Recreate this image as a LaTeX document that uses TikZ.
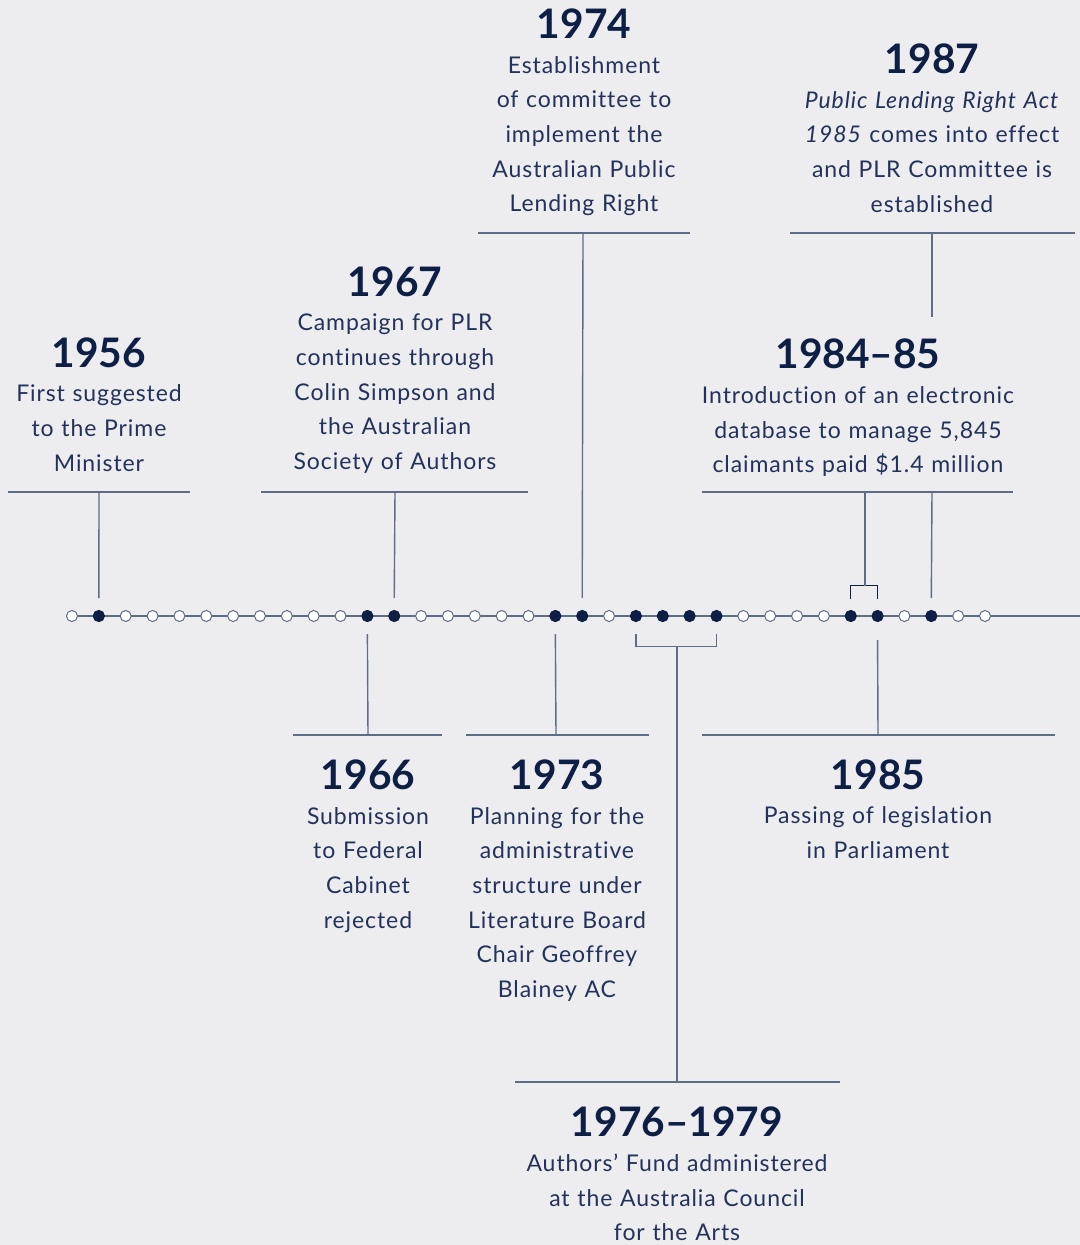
\documentclass[tikz,border=0pt]{standalone}
\usepackage{fontspec}
\setmainfont{Lato}[LetterSpace=4,Ligatures={NoCommon,TeX}]
\newfontfamily\yearfont{Lato}[Ligatures={NoCommon,TeX}]
\definecolor{bgc}{HTML}{EDEDF0}
\definecolor{navy}{HTML}{0E1F45}
\definecolor{bodyc}{HTML}{22325A}
\definecolor{lineg}{HTML}{5F6C87}
\newcommand{\yrtxt}[1]{\rule{0pt}{24pt}{\color{navy}\yearfont\fontsize{30.5pt}{26pt}\selectfont\bfseries #1}}
\begin{document}
\begin{tikzpicture}[x=0.75pt,y=-0.75pt,
  timeline/.style={draw=lineg,line width=1.4pt},
  conn/.style={draw=lineg,line width=1.05pt},
  rulel/.style={draw=lineg,line width=1pt},
  brkdark/.style={draw=navy,line width=1.05pt},
  dotempty/.style={circle,draw=lineg,fill=white,line width=0.75pt,minimum size=8.25pt,inner sep=0pt},
  dotfull/.style={circle,draw=navy,fill=navy,line width=0.75pt,minimum size=8.25pt,inner sep=0pt},
  event/.style={anchor=north,inner sep=0pt,align=center,text width=300pt,text=bodyc,
    font=\fontsize{17.25pt}{26pt}\selectfont}]
\fill[bgc] (0,0) rectangle (1080,1245);
\useasboundingbox (0,0) rectangle (1080,1245);

% timeline
\coordinate (tstart) at (72,616);
\coordinate (tend) at (1080,616);
\draw[timeline] (tstart) -- (tend);
\foreach \yr in {1955,...,1989}{
  \node[dotempty] (d\yr) at ({72+(\yr-1955)*26.853},616) {};
}
\foreach \yr in {1956,1966,1967,1973,1974,1976,1977,1978,1979,1984,1985,1987}{
  \node[dotfull] (f\yr) at (d\yr) {};
}

% rule coordinates
\coordinate (a56l) at (8,492);   \coordinate (a56r) at (190,492);  \coordinate (a56) at (99,492);
\coordinate (a67l) at (261,492); \coordinate (a67r) at (528,492);  \coordinate (a67) at (395,492);
\coordinate (a74l) at (478,233); \coordinate (a74r) at (690,233);  \coordinate (a74) at (583,233);
\coordinate (a87l) at (790,233); \coordinate (a87r) at (1075,233); \coordinate (a87) at (932,233);
\coordinate (c87) at (932,317);  \coordinate (g87) at (932,492);
\coordinate (a84l) at (702,492); \coordinate (a84r) at (1013,492); \coordinate (a84) at (865,492);
\coordinate (b84) at (865,586);
\coordinate (a66l) at (293,735); \coordinate (a66r) at (442,735);  \coordinate (a66) at (368,735);
\coordinate (a73l) at (466,735); \coordinate (a73r) at (649,735);  \coordinate (a73) at (556,735);
\coordinate (a85l) at (702,735); \coordinate (a85r) at (1055,735); \coordinate (a85) at (878,735);
\coordinate (a76l) at (515,1082);\coordinate (a76r) at (840,1082); \coordinate (a76) at (677,1082);
\coordinate (b76) at (677,647);

\foreach \k in {56,67,74,87,84,66,73,85,76}{
  \draw[rulel] (a\k l) -- (a\k r);
}

% upper stems
\draw[conn] (d1956.north) ++(0,-12) -- (a56);
\draw[conn] (d1967.north) ++(0,-12) -- (a67);
\draw[conn] (d1974.north) ++(0,-12) -- (a74);
\draw[conn] (a87) -- (c87);
\draw[conn] (d1987.north) ++(0,-12) -- (g87);
\draw[brkdark] (d1984.north) ++(0,-11.5) -- ++(0,-13) -- ++(26.853,0) -- ++(0,13);
\draw[conn] (b84) -- (a84);

% lower stems
\draw[conn] (d1966.south) ++(0,12) -- (a66);
\draw[conn] (d1973.south) ++(0,12) -- (a73);
\draw[conn] (d1985.south) ++(0,18) -- (a85);
\draw[conn] (d1976.south) ++(0,11.5) -- ++(0,13) -- ++(80.56,0) -- ++(0,-13);
\draw[conn] (b76) -- (a76);

% texts
\node[event] (e1956) at (99,335) {\yrtxt{1956}\\First suggested\\to the Prime\\Minister};
\node[event] (e1967) at (395,264) {\yrtxt{1967}\\Campaign for PLR\\continues through\\Colin Simpson and\\the Australian\\Society of Authors};
\node[event] (e1974) at (584,6.3) {\yrtxt{1974}\\Establishment\\of committee to\\implement the\\Australian Public\\Lending Right};
\node[event] (e1987) at (932,41.3) {\yrtxt{1987}\\\textit{Public Lending Right Act}\\\textit{1985} comes into effect\\and PLR Committee is\\established};
\node[event] (e1984) at (858,336.5) {\yrtxt{1984–85}\\Introduction of an electronic\\database to manage 5,845\\claimants paid \$1.4 million};
\node[event] (e1966) at (368,757.3) {\yrtxt{1966}\\Submission\\to Federal\\Cabinet\\rejected};
\node[event] (e1973) at (557,757.3) {\yrtxt{1973}\\Planning for the\\administrative\\structure under\\Literature Board\\Chair Geoffrey\\Blainey AC};
\node[event] (e1985) at (878,757) {\yrtxt{1985}\\Passing of legislation\\in Parliament};
\node[event] (e1976) at (677,1104.7) {\yrtxt{1976–1979}\\Authors’ Fund administered\\at the Australia Council\\for the Arts};
\end{tikzpicture}
\end{document}
